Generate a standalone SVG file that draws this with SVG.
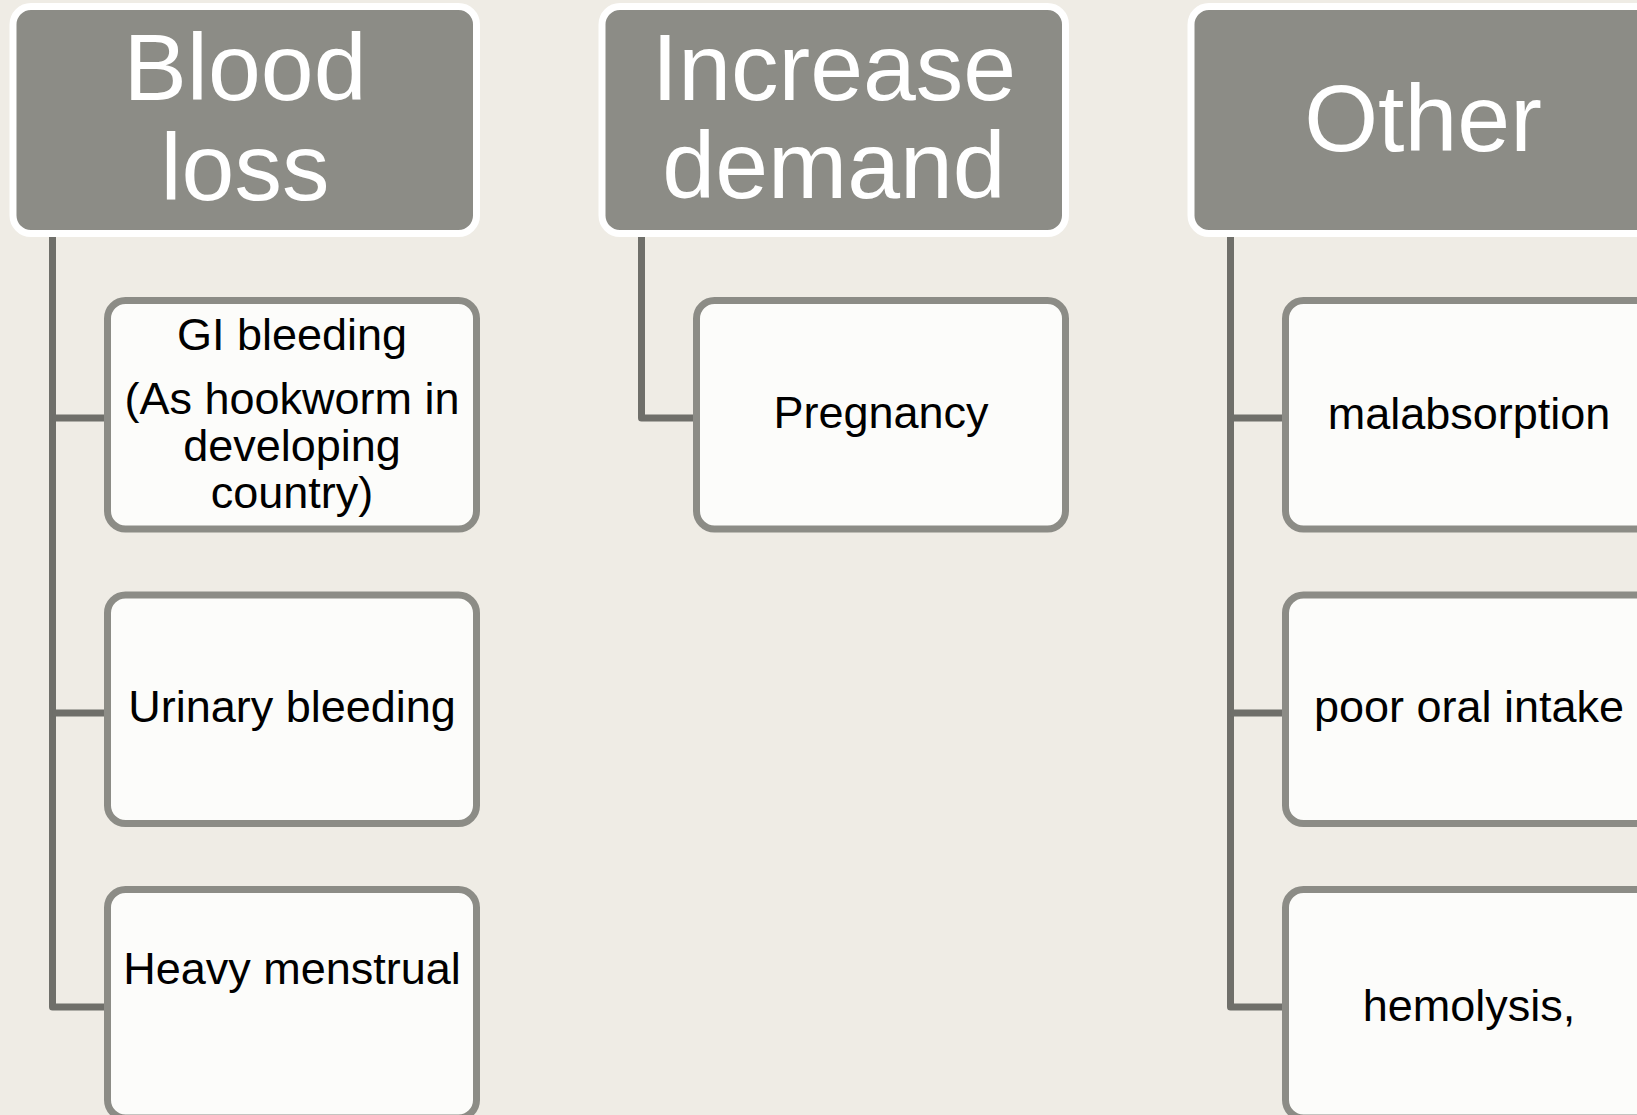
<svg xmlns="http://www.w3.org/2000/svg" width="1637" height="1115" viewBox="0 0 1637 1115">
<style>
.hdr{fill:#8C8C86;stroke:#FFFFFF;stroke-width:7}
.child{fill:#FCFCFA;stroke:#8C8C86;stroke-width:7}
.conn{fill:none;stroke:#6F6F6A;stroke-width:7;stroke-linejoin:round}
.ht{font-family:"Liberation Sans",Arial,sans-serif;font-size:95px;fill:#FFFFFF;text-anchor:middle}
.ct{font-family:"Liberation Sans",Arial,sans-serif;font-size:45px;fill:#000000;text-anchor:middle}
</style>
<rect x="0" y="0" width="1637" height="1115" fill="#EFECE5"/>
<g id="connectors">
<path class="conn" d="M52.5,237 V1007 H104"/>
<path class="conn" d="M52.5,418 H104"/>
<path class="conn" d="M52.5,713 H104"/>
<path class="conn" d="M641.5,237 V418 H693"/>
<path class="conn" d="M1230.5,237 V1007 H1282"/>
<path class="conn" d="M1230.5,418 H1282"/>
<path class="conn" d="M1230.5,713 H1282"/>
</g>
<g id="blood-loss">
<rect class="hdr" x="13" y="6.5" width="463.5" height="227" rx="18"/>
<text class="ht" x="245" y="100">Blood</text>
<text class="ht" x="245" y="200">loss</text>
</g>
<g id="gi-bleeding">
<rect class="child" x="107.5" y="300.5" width="369" height="228.5" rx="18"/>
<text class="ct" x="292" y="350">GI bleeding</text>
<text class="ct" x="292" y="414">(As hookworm in</text>
<text class="ct" x="292" y="461">developing</text>
<text class="ct" x="292" y="508">country)</text>
</g>
<g id="urinary-bleeding">
<rect class="child" x="107.5" y="595" width="369" height="228.5" rx="18"/>
<text class="ct" x="292" y="722">Urinary bleeding</text>
</g>
<g id="heavy-menstrual">
<rect class="child" x="107.5" y="889.5" width="369" height="228.5" rx="18"/>
<text class="ct" x="292" y="984">Heavy menstrual</text>
</g>
<g id="increase-demand">
<rect class="hdr" x="602" y="6.5" width="463.5" height="227" rx="18"/>
<text class="ht" x="834" y="100">Increase</text>
<text class="ht" x="834" y="198">demand</text>
</g>
<g id="pregnancy">
<rect class="child" x="696.5" y="300.5" width="369" height="228.5" rx="18"/>
<text class="ct" x="881" y="428">Pregnancy</text>
</g>
<g id="other">
<rect class="hdr" x="1191" y="6.5" width="463.5" height="227" rx="18"/>
<text class="ht" x="1423" y="151">Other</text>
</g>
<g id="malabsorption">
<rect class="child" x="1285.5" y="300.5" width="369" height="228.5" rx="18"/>
<text class="ct" x="1469" y="429">malabsorption</text>
</g>
<g id="poor-oral-intake">
<rect class="child" x="1285.5" y="595" width="369" height="228.5" rx="18"/>
<text class="ct" x="1469" y="722">poor oral intake</text>
</g>
<g id="hemolysis">
<rect class="child" x="1285.5" y="889.5" width="369" height="228.5" rx="18"/>
<text class="ct" x="1469" y="1021">hemolysis,</text>
</g>
</svg>
